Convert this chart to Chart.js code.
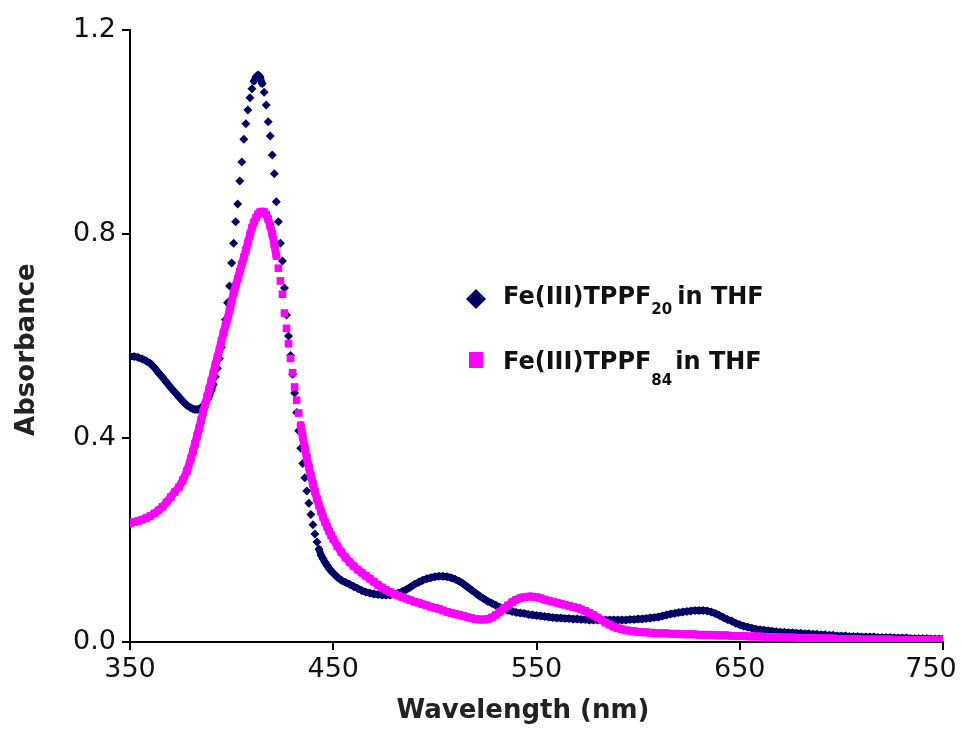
<!DOCTYPE html>
<html>
<head>
<meta charset="utf-8">
<script src="https://cdn.jsdelivr.net/npm/chart.js@4.4.1/dist/chart.umd.min.js"></script>
<style>
  html, body { margin: 0; padding: 0; background: #fff; }
</style>
</head>
<body>
<canvas id="spectrumChart" width="962" height="731"></canvas>
<script>
// wavelength grid (nm), 1 nm steps through the Soret band
const wavelength = [
    350,352,354,356,358,360,362,364,366,368,370,372,374,376,378,380,
    381,382,383,384,385,386,387,388,389,390,
    391,392,393,394,395,396,397,398,399,400,
    401,402,403,404,405,406,407,408,409,410,
    411,412,413,414,415,416,417,418,419,420,
    421,422,423,424,425,426,427,428,429,430,
    431,432,433,434,435,436,437,438,439,440,
    441,442,443,444,445,446,447,448,449,450,
    452,454,456,458,460,462,464,466,468,470,
    472,474,476,478,480,482,484,486,488,490,
    492,494,496,498,500,502,504,506,508,510,
    512,514,516,518,520,522,524,526,528,530,
    532,534,536,538,540,542,544,546,548,550,
    552,554,556,558,560,562,564,566,568,570,
    572,574,576,578,580,582,584,586,588,590,
    592,594,596,598,600,602,604,606,608,610,
    612,614,616,618,620,622,624,626,628,630,
    632,634,636,638,640,642,644,646,648,650,
    652,654,656,658,660,662,664,666,668,670,
    672,674,676,678,680,682,684,686,688,690,
    692,694,696,698,700,702,704,706,708,710,
    712,714,716,718,720,722,724,726,728,730,
    732,734,736,738,740,742,744,746,748,750
];

// Fe(III)TPPF20 absorbance
const absTPPF20 = [
    0.560,0.560,0.558,0.555,0.551,0.546,0.538,0.528,0.519,0.509,0.499,0.490,0.481,0.472,0.464,0.459,
    0.457,0.456,0.456,0.457,0.459,0.463,0.468,0.475,0.483,0.493,
    0.505,0.520,0.537,0.556,0.578,0.603,0.632,0.665,0.698,0.743,
    0.782,0.824,0.859,0.904,0.941,0.986,1.016,1.043,1.067,1.085,
    1.100,1.108,1.112,1.108,1.095,1.078,1.053,1.020,0.992,0.955,
    0.918,0.863,0.824,0.782,0.747,0.694,0.641,0.600,0.562,0.525,
    0.488,0.450,0.414,0.380,0.350,0.322,0.296,0.272,0.250,0.230,
    0.212,0.196,0.182,0.170,0.163,0.156,0.150,0.144,0.139,0.135,
    0.127,0.121,0.117,0.113,0.109,0.105,0.101,0.098,0.096,0.094,
    0.093,0.092,0.092,0.092,0.094,0.096,0.099,0.103,0.108,0.113,
    0.117,0.121,0.124,0.126,0.128,0.129,0.129,0.128,0.126,0.123,
    0.119,0.114,0.108,0.102,0.096,0.090,0.085,0.080,0.076,0.072,
    0.068,0.065,0.062,0.060,0.058,0.057,0.056,0.054,0.053,0.052,
    0.051,0.050,0.049,0.048,0.047,0.047,0.046,0.046,0.045,0.045,
    0.044,0.044,0.043,0.043,0.043,0.043,0.043,0.043,0.043,0.043,
    0.043,0.043,0.044,0.044,0.045,0.045,0.046,0.047,0.048,0.049,
    0.051,0.053,0.055,0.056,0.058,0.059,0.060,0.061,0.062,0.062,
    0.062,0.061,0.059,0.056,0.052,0.048,0.044,0.041,0.037,0.034,
    0.031,0.029,0.027,0.025,0.024,0.023,0.022,0.021,0.020,0.019,
    0.019,0.018,0.018,0.017,0.017,0.016,0.016,0.015,0.015,0.014,
    0.014,0.013,0.013,0.012,0.012,0.012,0.011,0.011,0.011,0.010,
    0.010,0.010,0.010,0.009,0.009,0.009,0.009,0.008,0.008,0.008,
    0.008,0.007,0.007,0.007,0.007,0.007,0.006,0.006,0.006,0.006
];

// Fe(III)TPPF84 absorbance
const absTPPF84 = [
    0.233,0.235,0.237,0.240,0.243,0.247,0.252,0.258,0.265,0.274,0.284,0.294,0.303,0.317,0.335,0.360,
    0.374,0.389,0.404,0.419,0.435,0.451,0.466,0.481,0.496,0.511,
    0.527,0.543,0.558,0.573,0.590,0.606,0.620,0.634,0.650,0.668,
    0.684,0.698,0.712,0.726,0.740,0.754,0.768,0.783,0.798,0.812,
    0.823,0.832,0.839,0.843,0.844,0.843,0.838,0.829,0.816,0.800,
    0.780,0.757,0.733,0.708,0.682,0.645,0.615,0.585,0.556,0.528,
    0.500,0.474,0.449,0.425,0.402,0.381,0.361,0.343,0.326,0.310,
    0.295,0.281,0.268,0.256,0.245,0.235,0.226,0.217,0.209,0.202,
    0.188,0.176,0.166,0.157,0.149,0.142,0.136,0.130,0.124,0.118,
    0.112,0.107,0.102,0.098,0.094,0.091,0.088,0.085,0.082,0.079,
    0.077,0.074,0.072,0.069,0.067,0.065,0.062,0.059,0.057,0.055,
    0.053,0.051,0.049,0.047,0.045,0.044,0.044,0.045,0.048,0.053,
    0.059,0.066,0.072,0.078,0.083,0.086,0.088,0.089,0.089,0.088,
    0.086,0.083,0.081,0.079,0.077,0.075,0.073,0.071,0.069,0.067,
    0.064,0.061,0.057,0.053,0.048,0.043,0.038,0.034,0.030,0.027,
    0.025,0.023,0.022,0.021,0.020,0.019,0.019,0.018,0.018,0.017,
    0.017,0.017,0.016,0.016,0.016,0.015,0.015,0.015,0.015,0.014,
    0.014,0.014,0.014,0.013,0.013,0.013,0.013,0.012,0.012,0.012,
    0.012,0.011,0.011,0.011,0.011,0.010,0.010,0.010,0.010,0.009,
    0.009,0.009,0.009,0.008,0.008,0.008,0.008,0.008,0.007,0.007,
    0.007,0.007,0.007,0.006,0.006,0.006,0.006,0.006,0.006,0.005,
    0.005,0.005,0.005,0.005,0.005,0.005,0.005,0.004,0.004,0.004,
    0.004,0.004,0.004,0.004,0.004,0.004,0.004,0.004,0.004,0.004
];

const seriesNames = ['Fe(III)TPPF', 'Fe(III)TPPF'];
const seriesSubs = ['20', '84'];
const seriesTails = ['in THF', 'in THF'];
const xTicks = [350, 450, 550, 650, 750];
const yTicks = [0.0, 0.4, 0.8, 1.2];

const navy = '#000066';
const magenta = '#ff00ff';
const tickFont = { family: '"DejaVu Sans", sans-serif', size: 27 };
const titleFont = { family: '"DejaVu Sans", sans-serif', size: 26, weight: 'bold' };

function toPoints(values) {
    return values.map((v, i) => ({ x: wavelength[i], y: v }));
}

// the markers merge into a band where the curve is flat and
// separate into dots where it is steep, so only join flat segments
function flatSegment(color, maxSlope) {
    return (ctx) => {
        const dx = Math.abs(ctx.p1.x - ctx.p0.x) || 1;
        const dy = Math.abs(ctx.p1.y - ctx.p0.y);
        return dy / dx > maxSlope ? 'rgba(0,0,0,0)' : color;
    };
}

// legend with subscripts, drawn next to the curves like the original
const subscriptLegend = {
    id: 'subscriptLegend',
    afterDraw(chart) {
        const ctx = chart.ctx;
        const rows = [
            { color: navy, shape: 'diamond', mx: 476, my: 299, baseline: 304, subShift: 10, gap: 5 },
            { color: magenta, shape: 'square', mx: 476, my: 360, baseline: 369, subShift: 16, gap: 3 }
        ];
        ctx.save();
        rows.forEach((r, i) => {
            ctx.fillStyle = r.color;
            ctx.beginPath();
            if (r.shape === 'diamond') {
                ctx.moveTo(r.mx, r.my - 10);
                ctx.lineTo(r.mx + 10, r.my);
                ctx.lineTo(r.mx, r.my + 10);
                ctx.lineTo(r.mx - 10, r.my);
                ctx.closePath();
            } else {
                ctx.rect(r.mx - 7, r.my - 8, 14, 16);
            }
            ctx.fill();

            let x = 503;
            ctx.fillStyle = '#111';
            ctx.textBaseline = 'alphabetic';
            ctx.textAlign = 'left';
            ctx.font = 'bold 24px "DejaVu Sans", sans-serif';
            ctx.fillText(seriesNames[i], x, r.baseline);
            x += ctx.measureText(seriesNames[i]).width;
            ctx.font = 'bold 15px "DejaVu Sans", sans-serif';
            ctx.fillText(seriesSubs[i], x, r.baseline + r.subShift);
            x += ctx.measureText(seriesSubs[i]).width + r.gap;
            ctx.font = 'bold 24px "DejaVu Sans", sans-serif';
            ctx.fillText(seriesTails[i], x, r.baseline);
        });
        ctx.restore();
    }
};

// nudge the last x label left so it stays inside the canvas
const edgeLabel = {
    id: 'edgeLabel',
    beforeDraw(chart) {
        const items = chart.scales.x.getLabelItems(chart.chartArea);
        const last = items[items.length - 1];
        if (last && !last._moved) {
            last.options.translation[0] -= 12;
            last._moved = true;
        }
    }
};

new Chart(document.getElementById('spectrumChart'), {
    type: 'scatter',
    data: {
        datasets: [{
            label: 'Fe(III)TPPF20 in THF',
            data: toPoints(absTPPF20),
            showLine: true,
            borderWidth: 7,
            borderCapStyle: 'round',
            borderJoinStyle: 'round',
            segment: { borderColor: flatSegment(navy, 3.5) },
            pointStyle: 'rectRot',
            pointRadius: 4.5,
            pointBorderWidth: 0,
            backgroundColor: navy,
            borderColor: navy,
            order: 1
        }, {
            label: 'Fe(III)TPPF84 in THF',
            data: toPoints(absTPPF84),
            showLine: true,
            borderWidth: 8,
            borderCapStyle: 'round',
            borderJoinStyle: 'round',
            segment: { borderColor: flatSegment(magenta, 6) },
            pointStyle: 'rect',
            pointRadius: 5.4,
            pointBorderWidth: 0,
            backgroundColor: magenta,
            borderColor: magenta,
            order: 0
        }]
    },
    options: {
        responsive: false,
        animation: false,
        layout: {
            padding: { left: 0, right: 19, top: 30, bottom: 0 }
        },
        plugins: {
            legend: { display: false },
            tooltip: { enabled: false }
        },
        scales: {
            x: {
                type: 'linear',
                min: 350,
                max: 750,
                afterBuildTicks: (scale) => {
                    scale.ticks = xTicks.map(v => ({ value: v }));
                },
                afterFit: (scale) => {
                    scale.height = 89;
                    scale.paddingLeft = 0;
                    scale.paddingRight = 0;
                },
                ticks: {
                    color: '#111',
                    font: tickFont,
                    padding: 4,
                    maxRotation: 0
                },
                grid: {
                    drawOnChartArea: false,
                    drawTicks: true,
                    tickLength: 8,
                    color: '#000',
                    lineWidth: 2
                },
                border: { display: true, color: '#000', width: 2 },
                title: {
                    display: true,
                    text: 'Wavelength (nm)   ',
                    color: '#222',
                    font: titleFont,
                    padding: { top: 0, bottom: 4 }
                }
            },
            y: {
                min: 0,
                max: 1.2,
                afterBuildTicks: (scale) => {
                    scale.ticks = yTicks.map(v => ({ value: v }));
                },
                afterFit: (scale) => {
                    scale.width = 130;
                },
                ticks: {
                    color: '#111',
                    font: tickFont,
                    padding: 6,
                    callback: (v) => Number(v).toFixed(1)
                },
                grid: {
                    drawOnChartArea: false,
                    drawTicks: true,
                    tickLength: 8,
                    color: '#000',
                    lineWidth: 2
                },
                border: { display: true, color: '#000', width: 2 },
                title: {
                    display: true,
                    text: 'Absorbance   ',
                    color: '#222',
                    font: titleFont,
                    padding: { top: 12, bottom: 0 }
                }
            }
        }
    },
    plugins: [subscriptLegend, edgeLabel]
});
</script>
</body>
</html>
